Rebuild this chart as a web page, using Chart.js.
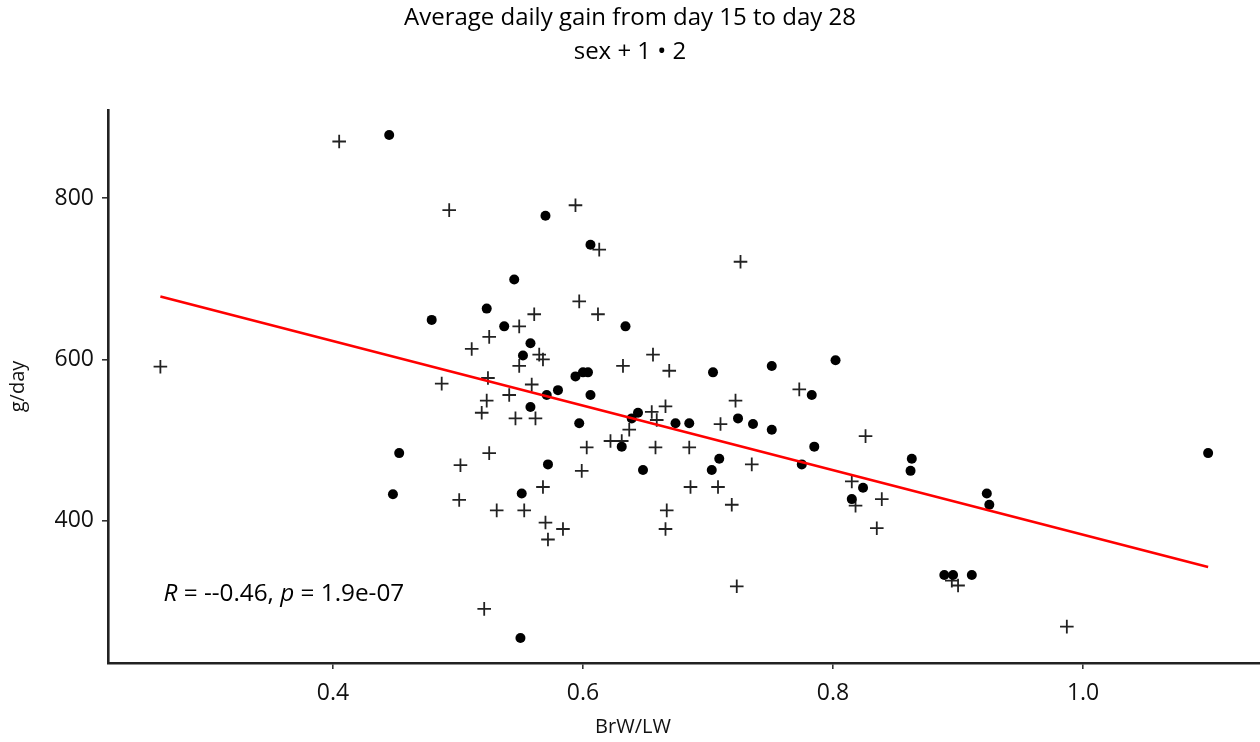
<!DOCTYPE html>
<html><head><meta charset="utf-8">
<script src="https://cdn.jsdelivr.net/npm/chart.js@4.4.1/dist/chart.umd.min.js"></script>
<style>html,body{margin:0;padding:0;background:#fff;}#wrap{width:1260px;height:742px;position:relative;}</style>
</head><body><div id="wrap"><canvas id="c" width="1260" height="742"></canvas></div>
<script>
// sex 1 (crosses)
const sex1X = [0.262,0.405,0.493,0.594,0.613,0.726,0.597,0.612,0.561,0.549,0.525,0.511,0.565,0.568,0.549,0.632,0.656,0.669,0.487,0.524,0.559,0.541,0.523,0.519,0.546,0.562,0.655,0.666,0.659,0.637,0.622,0.631,0.603,0.658,0.685,0.722,0.710,0.525,0.502,0.501,0.599,0.568,0.686,0.708,0.531,0.553,0.667,0.719,0.570,0.584,0.666,0.572,0.723,0.521,0.773,0.826,0.735,0.815,0.818,0.839,0.835,0.900,0.895,0.987];
const sex1Y = [591,870,785,791,736,721,672,656,656,641,628,613,606,600,592,592,606,586,570,577,569,556,549,534,527,527,535,542,525,513,499,499,491,491,491,549,520,484,469,426,462,442,442,442,413,413,413,420,398,390,390,377,319,291,563,505,470,449,419,427,391,320,326,269];
// sex 2 (dots)
const sex2X = [0.445,0.479,0.453,0.448,0.570,0.606,0.545,0.523,0.537,0.634,0.558,0.552,0.594,0.600,0.604,0.704,0.580,0.571,0.606,0.558,0.644,0.639,0.674,0.685,0.724,0.597,0.631,0.709,0.703,0.648,0.572,0.551,0.550,0.751,0.802,0.783,0.736,0.751,0.785,0.775,0.863,0.862,0.824,0.815,0.923,0.925,0.889,0.896,0.911,1.100];
const sex2Y = [878,649,484,433,778,742,699,663,641,641,620,605,579,584,584,584,562,556,556,541,534,527,521,521,527,521,492,477,463,463,470,434,255,592,599,556,520,513,492,470,477,462,441,427,434,420,333,333,333,484];
// regression line end points
const fitX = [0.262, 1.100];
const fitY = [678, 343];
const xTicks = [0.4, 0.6, 0.8, 1.0];
const yTicks = [400, 600, 800];
const titleText = 'Average daily gain from day 15 to day 28';
const subtitleText = 'sex + 1 \u2022 2';
const xTitleText = 'BrW/LW';
const yTitleText = 'g/day';
const annoParts = [['R', true], [' = --0.46, ', false], ['p', true], [' = 1.9e-07', false]];
const annoPos = {x: 0.2645, y: 310};

const FONT = "'Open Sans', 'Noto Sans', sans-serif";
const toPts = (xs, ys) => xs.map((x, i) => ({x: x, y: ys[i]}));

const textPlugin = {
  id: 'texts',
  afterDatasetsDraw(chart) {
    const ctx = chart.ctx;
    const px = chart.scales.x.getPixelForValue(annoPos.x);
    const py = chart.scales.y.getPixelForValue(annoPos.y);
    ctx.save();
    ctx.fillStyle = '#000';
    ctx.textBaseline = 'middle';
    ctx.textAlign = 'left';
    let cx = px;
    for (const [t, it] of annoParts) {
      ctx.font = (it ? 'italic ' : '') + '24.3px ' + FONT;
      ctx.fillText(t, cx, py);
      cx += ctx.measureText(t).width;
    }
    // x axis title, centred on the whole figure as in the reference
    ctx.fillStyle = '#111';
    ctx.textAlign = 'center';
    ctx.font = '20px ' + FONT;
    ctx.fillText(xTitleText, chart.width / 2 + 3, 727);
    ctx.restore();
  }
};

new Chart(document.getElementById('c'), {
  type: 'scatter',
  data: {
    datasets: [
      {label: '1', data: toPts(sex1X, sex1Y), pointStyle: 'cross', pointRadius: 6.8, pointBorderWidth: 1.8, borderColor: '#222', backgroundColor: '#222', order: 2},
      {label: '2', data: toPts(sex2X, sex2Y), pointStyle: 'circle', pointRadius: 5, pointBorderWidth: 0, borderColor: '#000', backgroundColor: '#000', order: 1},
      {type: 'line', label: 'fit', data: toPts(fitX, fitY), borderColor: '#ff0000', borderWidth: 2.6, pointRadius: 0, fill: false, order: 0}
    ]
  },
  options: {
    responsive: false,
    animation: false,
    devicePixelRatio: 1,
    layout: {padding: 0, autoPadding: false},
    events: [],
    plugins: {
      legend: {display: false},
      tooltip: {enabled: false},
      title: {display: true, text: titleText, color: '#000', font: {family: FONT, size: 24, weight: 'normal'}, padding: {top: 3.6, bottom: 5.2}},
      subtitle: {display: true, text: subtitleText, color: '#000', font: {family: FONT, size: 24, weight: 'normal'}, padding: {top: 0, bottom: 43.6}}
    },
    scales: {
      x: {
        type: 'linear', min: 0.2201, max: 1.1415,
        afterBuildTicks: s => { s.ticks = xTicks.map(v => ({value: v})); },
        afterFit: s => { s.height = 79; s.paddingLeft = 0; s.paddingRight = 0; },
        border: {display: true, color: '#222', width: 2.6},
        grid: {display: true, drawOnChartArea: false, drawTicks: true, tickLength: 6, color: '#333', lineWidth: 1.6},
        ticks: {color: '#111', font: {family: FONT, size: 23}, padding: 11, callback: v => Number(v).toFixed(1), maxRotation: 0},
        title: {display: false}
      },
      y: {
        type: 'linear', min: 224, max: 909,
        afterBuildTicks: s => { s.ticks = yTicks.map(v => ({value: v})); },
        afterFit: s => { s.width = 108; s.paddingTop = 0; s.paddingBottom = 0; },
        border: {display: true, color: '#222', width: 2.6},
        grid: {display: true, drawOnChartArea: false, drawTicks: true, tickLength: 6, color: '#333', lineWidth: 1.6},
        ticks: {color: '#111', font: {family: FONT, size: 23}, padding: 8, callback: v => String(v)},
        title: {display: true, text: yTitleText, color: '#111', font: {family: FONT, size: 20}, padding: {top: 6, bottom: 0}}
      }
    }
  },
  plugins: [textPlugin]
});
</script></body></html>
